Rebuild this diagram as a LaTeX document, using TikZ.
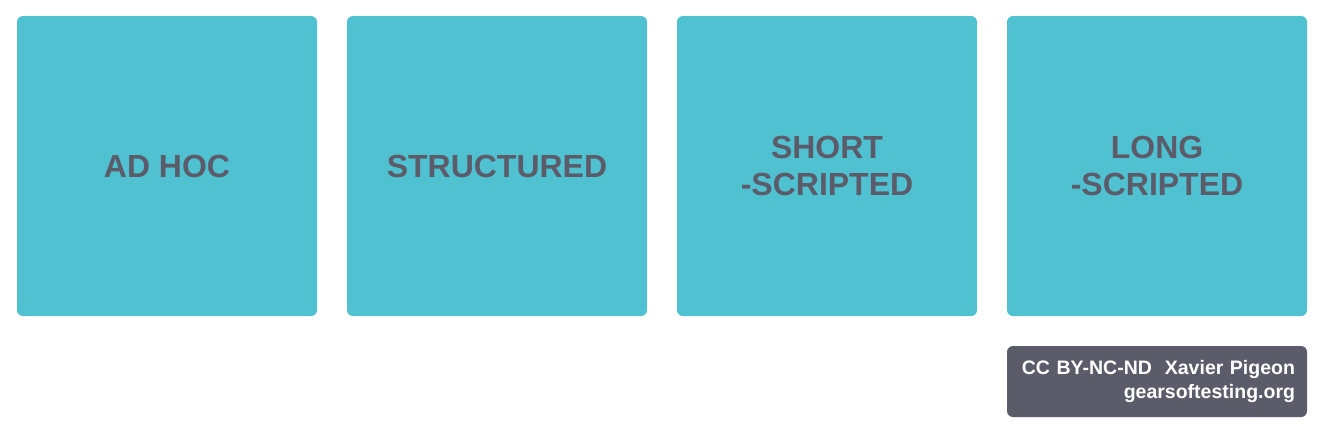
\documentclass[tikz,border=0pt]{standalone}
\usepackage{fontspec}
\setmainfont{Liberation Sans}
\usetikzlibrary{positioning}
\definecolor{tealbox}{RGB}{80,193,209}
\definecolor{darkgrey}{RGB}{92,91,106}

\begin{document}
\begin{tikzpicture}[
	level/.style={fill=tealbox, rounded corners=0.12cm, minimum width=6cm, minimum height=6cm, inner sep=0pt, outer sep=0pt, align=center, text=darkgrey, font=\fontsize{18.2}{20}\selectfont\bfseries},
	credit/.style={fill=darkgrey, rounded corners=0.12cm, minimum width=6cm, minimum height=1.42cm, inner sep=0.24cm, outer sep=0pt, align=right, text=white, font=\fontsize{11.1}{13.2}\selectfont\bfseries}]
		\useasboundingbox (0,0) rectangle (26.48,-8.68);
		\node[level, anchor=north west] (adhoc) at (0.34,-0.32) {AD HOC};
		\node[level, right=0.6cm of adhoc] (structured) {STRUCTURED};
		\node[level, right=0.6cm of structured] (short) {SHORT\\[0.6pt]-SCRIPTED};
		\node[level, right=0.6cm of short] (long) {LONG\\[0.6pt]-SCRIPTED};
		\node[credit, below=0.6cm of long, text width=5.52cm] (cc) {CC BY-NC-ND\ \ Xavier Pigeon\\gearsoftesting.org};
	\end{tikzpicture}
\end{document}
